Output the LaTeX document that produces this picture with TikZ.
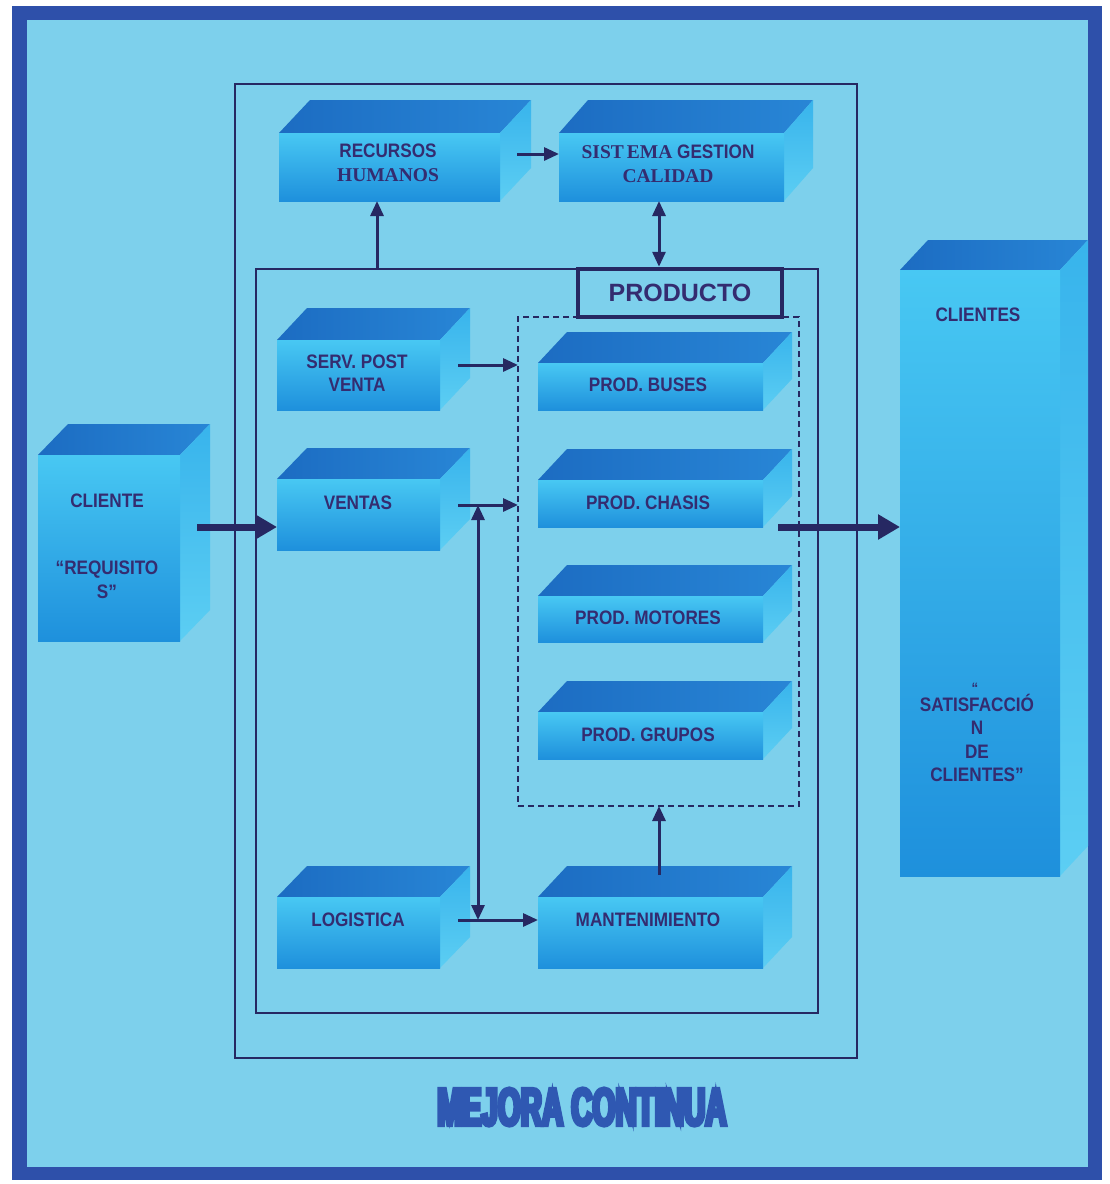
\documentclass[tikz,border=0pt]{standalone}
\usepackage{fontspec}
\setmainfont{Liberation Sans}
\newfontfamily\sansn{Liberation Sans}[FakeStretch=0.88]
\newfontfamily\serifb{Liberation Serif}
\newfontfamily\heavyf{Liberation Sans}[FakeStretch=0.555,FakeBold=7]
\usetikzlibrary{arrows.meta,calc}

\definecolor{fondo}{RGB}{125,208,236}
\definecolor{marco}{RGB}{46,80,170}
\definecolor{linea}{RGB}{38,40,98}
\definecolor{texto}{RGB}{52,44,112}
\definecolor{caratop}{RGB}{28,108,194}
\definecolor{caratop2}{RGB}{40,134,214}
\definecolor{frente1}{RGB}{72,200,243}
\definecolor{frente2}{RGB}{30,144,220}
\definecolor{lado1}{RGB}{56,180,236}
\definecolor{lado2}{RGB}{92,206,243}
\definecolor{mejora}{RGB}{47,88,178}

\tikzset{
  topface/.style={left color=caratop, right color=caratop2},
  sideface/.style={top color=lado1, bottom color=lado2},
  frontface/.style={top color=frente1, bottom color=frente2, inner sep=0pt, outer sep=0pt, anchor=north west},
  lab/.style={font=\sansn\bfseries\fontsize{19.5}{23.5}\selectfont, text=texto, align=center, inner sep=0pt},
  frameline/.style={draw=linea, line width=1.8pt},
  dashbox/.style={draw=linea, line width=2pt, dash pattern=on 6pt off 4pt, inner sep=0pt, outer sep=0pt},
  arr/.style={draw=linea, line width=3pt, -{Triangle[length=15pt,width=13pt]}},
  dblarr/.style={draw=linea, line width=3pt, {Triangle[length=15pt,width=13pt]}-{Triangle[length=15pt,width=13pt]}},
  bigarr/.style={draw=linea, line width=7pt, -{Triangle[length=22pt,width=24pt]}},
}

% 3D block: name, front left x, front top y, front right x, bottom y, depth x, depth y
\newcommand{\cubo}[7]{%
  \shade[topface] (#2,#3) -- (#2+#6,#3-#7) -- (#4+#6,#3-#7) -- (#4,#3) -- cycle;
  \shade[sideface] (#4,#3) -- (#4+#6,#3-#7) -- (#4+#6,#5-#7) -- (#4,#5) -- cycle;
  \node[frontface, minimum width={(#4-#2)*1pt}, minimum height={(#5-#3)*1pt}] (#1) at (#2,#3) {};
}

\begin{document}
\begin{tikzpicture}[x=1pt,y=-1pt]
\useasboundingbox (0,0) rectangle (1110,1184);
\fill[white] (0,0) rectangle (1110,1184);
% page frame
\fill[marco] (12,6) rectangle (1102,1180);
\fill[fondo] (27,20) rectangle (1088,1167);

% process frames
\node[frameline, inner sep=0pt, outer sep=0pt, minimum width=622pt, minimum height=974pt, anchor=north west] (mext) at (235,84) {};
\node[frameline, inner sep=0pt, outer sep=0pt, minimum width=562pt, minimum height=744pt, anchor=north west] (mint) at (256,269) {};
\node[dashbox, minimum width=281pt, minimum height=489pt, anchor=north west] (grupo) at (518,317) {};

% blocks
\cubo{rh}{279}{133}{500}{201}{31}{33}
\cubo{sg}{559}{133}{784}{201}{29}{33}
\cubo{spv}{277}{340}{440}{410}{30}{32}
\cubo{ven}{277}{479}{440}{550}{30}{31}
\cubo{log}{277}{897}{440}{968}{30}{31}
\cubo{bus}{538}{363}{763}{410}{29}{31}
\cubo{cha}{538}{480}{763}{527}{29}{31}
\cubo{mot}{538}{596}{763}{642}{29}{31}
\cubo{gru}{538}{712}{763}{759}{29}{31}
\cubo{man}{538}{897}{763}{968}{29}{31}
\cubo{cli}{38}{455}{180}{641}{30}{31}
\cubo{clis}{900}{270}{1060}{876}{28}{30}

% PRODUCTO label box
\node[draw=linea, line width=4.5pt, fill=fondo, minimum width=204pt, minimum height=48pt, inner sep=0pt,
      font=\bfseries\fontsize{25}{28}\selectfont, text=texto] (prod) at (680,293) {PRODUCTO};

% texts
\node[lab] (trh) at (388,163) {RECURSOS\\{\serifb\bfseries HUMANOS}};
\node[lab] (tsg) at (668,164) {{\serifb\bfseries SIST\kern3pt EMA} GESTION\\{\serifb\bfseries CALIDAD}};
\node[lab] (tspv) at (357,373) {SERV. POST\\VENTA};
\node[lab] (tven) at (358,503) {VENTAS};
\node[lab] (tlog) at (358,920) {LOGISTICA};
\node[lab] (tbus) at (648,385) {PROD. BUSES};
\node[lab] (tcha) at (648,503) {PROD. CHASIS};
\node[lab] (tmot) at (648,618) {PROD. MOTORES};
\node[lab] (tgru) at (648,735) {PROD. GRUPOS};
\node[lab] (tman) at (648,920) {MANTENIMIENTO};
\node[lab] (tcli) at (107,501) {CLIENTE};
\node[lab] (treq) at (107,580) {“REQUISITO\\S”};
\node[lab] (tclis) at (978,315) {CLIENTES};
\node[lab, font=\sansn\bfseries\fontsize{15}{16}\selectfont] (tq) at (975,688) {“};
\node[lab] (tsat) at (977,738) {SATISFACCIÓ\\N\\DE\\CLIENTES”};

% connectors
\coordinate (p1) at (517,154);
\draw[arr] (p1) -- (p1 -| sg.west);
\coordinate (p2) at (377,269);
\draw[arr] (p2) -- (p2 |- rh.south);
\draw[dblarr] ([xshift=-21pt]prod.north) -- ([xshift=-21pt]prod.north |- sg.south);
\coordinate (p4) at (458,365);
\draw[arr] (p4) -- (p4 -| grupo.west);
\coordinate (p5) at (458,505);
\draw[arr] (p5) -- (p5 -| grupo.west);
\coordinate (p6a) at (478,505);
\coordinate (p6b) at (478,920);
\draw[dblarr] (p6a) -- (p6b);
\coordinate (p7) at (458,920);
\draw[arr] (p7) -- (p7 -| man.west);
\coordinate (p8) at (659,875);
\draw[arr] (p8) -- (p8 |- grupo.south);
\coordinate (p9) at (197,527);
\draw[bigarr] (p9) -- (p9 -| ven.west);
\coordinate (p10) at (778,527);
\draw[bigarr] (p10) -- (p10 -| clis.west);

% title
\node[font=\heavyf\bfseries\fontsize{53}{53}\selectfont, text=mejora, inner sep=0pt] (mc) at (582,1107) {MEJORA CONTINUA};
\end{tikzpicture}
\end{document}
